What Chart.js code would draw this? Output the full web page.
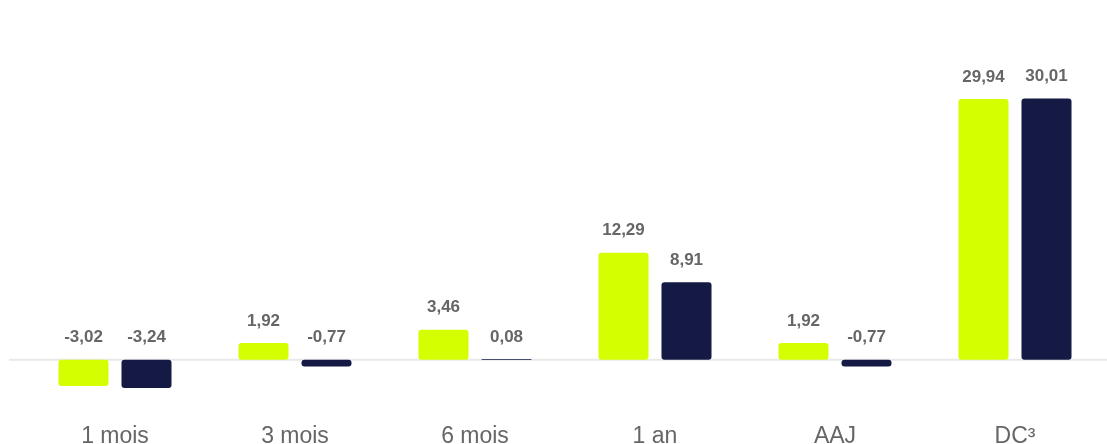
<!DOCTYPE html>
<html><head><meta charset="utf-8">
<script src="https://cdn.jsdelivr.net/npm/chart.js@4"></script>
<style>html,body{margin:0;padding:0;background:#fff;}#wrap{width:1107px;height:444px;position:relative;}</style>
</head><body><div id="wrap"><canvas id="c"></canvas></div>
<script>
const categories = ['1 mois','3 mois','6 mois','1 an','AAJ','DC³'];
const seriesA = [-3.02, 1.92, 3.46, 12.29, 1.92, 29.94];
const seriesB = [-3.24, -0.77, 0.08, 8.91, -0.77, 30.01];

const fmt = v => v.toFixed(2).replace('.', ',');

const labelPlugin = {
  id: 'vlabels',
  afterDatasetsDraw(chart) {
    const ctx = chart.ctx;
    const y0 = chart.scales.y.getPixelForValue(0);
    ctx.save();
    ctx.font = 'bold 17px "Liberation Sans", Arial, sans-serif';
    ctx.fillStyle = '#666666';
    ctx.textAlign = 'center';
    ctx.textBaseline = 'middle';
    chart.data.datasets.forEach((ds, i) => {
      chart.getDatasetMeta(i).data.forEach((bar, j) => {
        const top = Math.min(bar.y, y0);
        ctx.fillText(fmt(ds.data[j]), bar.x, top - 22);
      });
    });
    ctx.restore();
  }
};
const zeroLine = {
  id: 'zeroLine',
  beforeDatasetsDraw(chart) {
    const ctx = chart.ctx;
    const y0 = chart.scales.y.getPixelForValue(0);
    ctx.save();
    ctx.strokeStyle = '#e9e9e9';
    ctx.lineWidth = 2;
    ctx.beginPath();
    ctx.moveTo(9, y0);
    ctx.lineTo(1107, y0);
    ctx.stroke();
    ctx.restore();
  }
};

new Chart(document.getElementById('c'), {
  type: 'bar',
  data: {
    labels: categories,
    datasets: [
      { data: seriesA, backgroundColor: '#d4ff00', borderRadius: 3, borderSkipped: false, categoryPercentage: 0.7, barPercentage: 0.794 },
      { data: seriesB, backgroundColor: '#151a45', borderRadius: 3, borderSkipped: false, categoryPercentage: 0.7, barPercentage: 0.794 }
    ]
  },
  options: {
    responsive: true,
    maintainAspectRatio: false,
    animation: false,
    layout: { padding: { top: 55, left: 25, right: 2, bottom: 0 } },
    plugins: { legend: { display: false }, tooltip: { enabled: false } },
    scales: {
      x: {
        grid: { display: false },
        border: { display: false },
        ticks: { color: '#666666', font: { size: 23, family: '"Liberation Sans", Arial, sans-serif' }, padding: 3, maxRotation: 0 },
        afterFit(s) { s.height = 32; }
      },
      y: {
        display: false,
        min: -6, max: 35
      }
    }
  },
  plugins: [zeroLine, labelPlugin]
});
</script></body></html>
